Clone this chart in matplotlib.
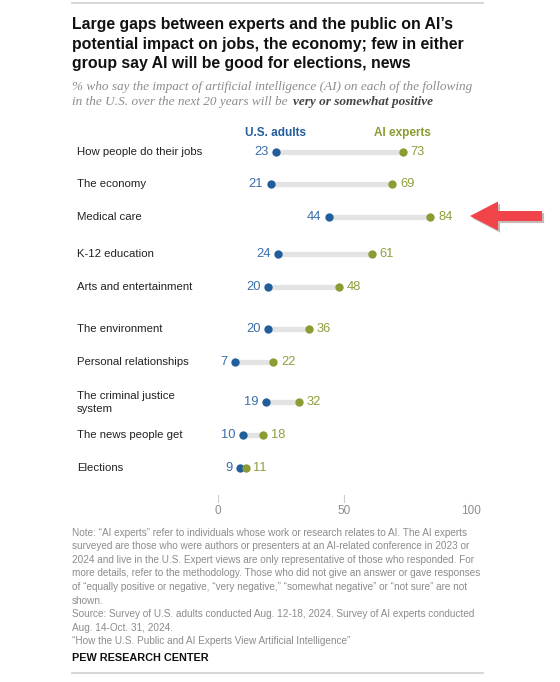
import matplotlib.pyplot as plt
from matplotlib.patches import FancyArrow
import matplotlib.patheffects as pe

categories = ["How people do their jobs", "The economy", "Medical care",
              "K-12 education", "Arts and entertainment", "The environment",
              "Personal relationships", "The criminal justice\nsystem",
              "The news people get", "Elections"]
us_adults = [23, 21, 44, 24, 20, 20, 7, 19, 10, 9]
ai_experts = [73, 69, 84, 61, 48, 36, 22, 32, 18, 11]
ticks = [0, 50, 100]

# row centres in pixels from top
row_y = [151.7, 184, 216.7, 254.3, 286.7, 329, 361.7, 402.3, 435.3, 467.7]

W, H = 560, 682
blue = "#235E9C"
green = "#8A9C32"
blue_txt = "#3A6DAA"
green_txt = "#8E9E3E"
grey_txt = "#8C8C8C"

fig = plt.figure(figsize=(W / 100, H / 100), dpi=100)
fig.patch.set_facecolor("white")

x0, x1 = 217.7, 471.0
ax = fig.add_axes([x0 / W, 0, (x1 - x0) / W, 1])
ax.set_xlim(0, 100)
ax.set_ylim(H, 0)
ax.axis("off")

font = "Liberation Sans"

for i, cat in enumerate(categories):
    y = row_y[i]
    a, e = us_adults[i], ai_experts[i]
    ax.plot([a, e], [y, y], color="#E3E3E3", lw=3.8, solid_capstyle="butt", zorder=1)
    ax.plot(a, y, "o", color=blue, ms=6, mec="none", zorder=2)
    ax.plot(e, y, "o", color=green, ms=6, mec="none", zorder=3)
    ax.annotate(str(a), (a, y), xytext=(-5.5, 0), textcoords="offset points",
                ha="right", va="center", color=blue_txt, fontsize=9.3, family=font)
    ax.annotate(str(e), (e, y), xytext=(5.5, 0), textcoords="offset points",
                ha="left", va="center", color=green_txt, fontsize=9.3, family=font)
    fig.text(77 / W, 1 - y / H, cat, ha="left", va="center", fontsize=8.2,
             family=font, color="#222222", linespacing=1.35)

ax.text(us_adults[0], 133, "U.S. adults", ha="center", va="center",
        color=blue, fontsize=8.5, fontweight="bold", family=font)
ax.text(ai_experts[0], 133, "AI experts", ha="center", va="center",
        color=green, fontsize=8.5, fontweight="bold", family=font)

for t in ticks:
    ax.plot([t, t], [495, 502], color="#CCCCCC", lw=0.8)
    ax.text(t, 511, str(t), ha="center", va="center", color=grey_txt,
            fontsize=8.5, family=font)

# frame lines
fig.add_artist(plt.Line2D([72 / W, 483 / W], [1 - 2.5 / H] * 2, color="#CFCFCF", lw=1.2))
fig.add_artist(plt.Line2D([72 / W, 483 / W], [1 - 673 / H] * 2, color="#CFCFCF", lw=1.2))

title = ("Large gaps between experts and the public on AI\u2019s\n"
         "potential impact on jobs, the economy; few in either\n"
         "group say AI will be good for elections, news")
fig.text(72 / W, 1 - 17.5 / H, title, ha="left", va="top", fontsize=11.4,
         fontweight="bold", family=font, color="#111111", linespacing=1.36)

serif = "Liberation Serif"
fig.text(72 / W, 1 - 81 / H,
         "% who say the impact of artificial intelligence (AI) on each of the following",
         ha="left", va="top", fontsize=9.5, style="italic", family=serif,
         color=grey_txt)
sub2 = fig.text(72 / W, 1 - 96 / H, "in the U.S. over the next 20 years will be ",
                ha="left", va="top", fontsize=9.5, style="italic", family=serif,
                color=grey_txt)
fig.canvas.draw()
bb = sub2.get_window_extent()
fig.text(bb.x1 / W + 2 / W, 1 - 96 / H, "very or somewhat positive",
         ha="left", va="top", fontsize=9.5, style="italic", fontweight="bold",
         family=serif, color="#444444")

note = ("Note: \u201cAI experts\u201d refer to individuals whose work or research relates to AI. The AI experts\n"
        "surveyed are those who were authors or presenters at an AI-related conference in 2023 or\n"
        "2024 and live in the U.S. Expert views are only representative of those who responded. For\n"
        "more details, refer to the methodology. Those who did not give an answer or gave responses\n"
        "of \u201cequally positive or negative, \u201cvery negative,\u201d \u201csomewhat negative\u201d or \u201cnot sure\u201d are not\n"
        "shown.\n"
        "Source: Survey of U.S. adults conducted Aug. 12-18, 2024. Survey of AI experts conducted\n"
        "Aug. 14-Oct. 31, 2024.\n"
        "\u201cHow the U.S. Public and AI Experts View Artificial Intelligence\u201d")
fig.text(72 / W, 1 - 527.5 / H, note, ha="left", va="top", fontsize=7.2,
         family=font, color=grey_txt, linespacing=1.45)
fig.text(72 / W, 1 - 658 / H, "PEW RESEARCH CENTER", ha="left", va="center",
         fontsize=7.8, fontweight="bold", family=font, color="#111111")

# red arrow
arrow = FancyArrow(542 / W, 1 - 216 / H, -(542 - 470) / W, 0, width=10 / H,
                   head_width=29 / H, head_length=28 / W, length_includes_head=True,
                   transform=fig.transFigure, color="#F0444A", lw=0,
                   path_effects=[pe.withSimplePatchShadow(offset=(1.5, -1.5), alpha=0.3)])
fig.add_artist(arrow)

fig.savefig("out.png", dpi=100, facecolor="white")
